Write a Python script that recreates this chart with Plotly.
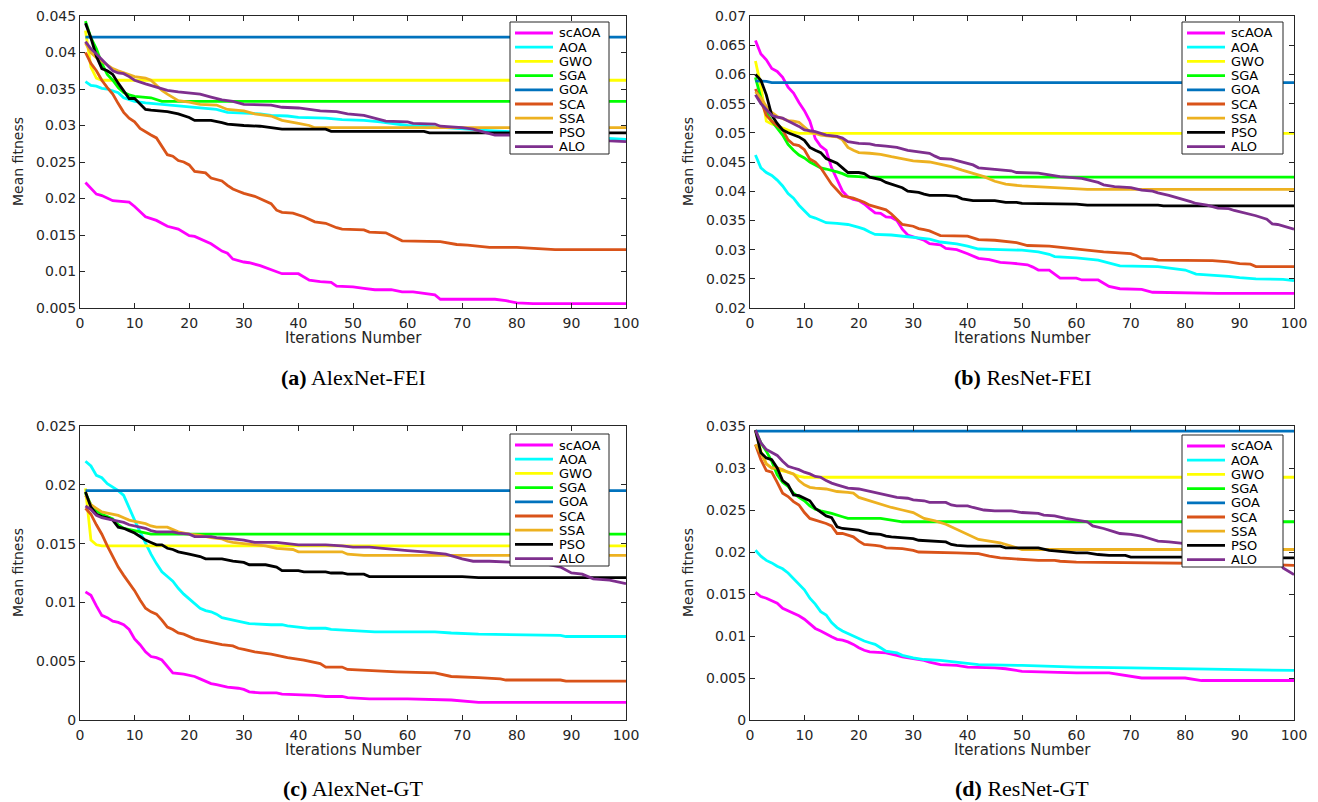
import plotly.graph_objects as go

NAMES = ["scAOA", "AOA", "GWO", "SGA", "GOA", "SCA", "SSA", "PSO", "ALO"]
COLORS = ["#FF00FF", "#00FFFF", "#FFFF00", "#00FF00", "#0072BD", "#D95319", "#EDB120", "#000000", "#7E2F8E"]

# ---------------- (a) AlexNet-FEI ----------------
a_scAOA = [(1,.0222),(2,.0214),(3,.0206),(4,.0204),(5,.0201),(6,.0197),(9,.0195),(10,.0189),(12,.0175),(14,.0170),(16,.0162),(18,.0158),(20,.0149),(21,.0148),(24,.0138),(26,.0128),(27,.0125),(28,.0117),(30,.0113),(31,.0112),(33,.0108),(35,.0102),(37,.0097),(40,.0097),(42,.0088),(44,.0086),(46,.0085),(47,.0080),(50,.0079),(52,.0077),(54,.0075),(57,.0075),(59,.0072),(61,.0072),(63,.0070),(65,.0068),(66,.0062),(76,.0062),(78,.0060),(80,.0057),(83,.0056),(100,.0056)]
a_AOA = [(1,.0360),(2,.0355),(3,.0354),(4,.0351),(5,.0350),(6,.0347),(7,.0345),(8,.0338),(9,.0335),(10,.0333),(12,.0331),(15,.0329),(18,.0327),(20,.0325),(22,.0324),(25,.0322),(27,.0318),(30,.0317),(33,.0316),(35,.0314),(38,.0313),(40,.0311),(45,.0310),(48,.0308),(52,.0307),(55,.0305),(60,.0300),(65,.0298),(70,.0295),(75,.0293),(80,.0291),(85,.0288),(90,.0285),(95,.0283),(100,.0281)]
a_GWO = [(1,.0430),(2,.0380),(3,.0365),(4,.0362),(100,.0362)]
a_SGA = [(1,.0443),(2,.0420),(3,.0405),(4,.0385),(5,.0370),(6,.0362),(7,.0352),(8,.0345),(9,.0342),(10,.0340),(13,.0338),(14,.0335),(15,.0333),(100,.0333)]
a_GOA = [(1,.0421),(100,.0421)]
a_SCA = [(1,.0400),(2,.0385),(3,.0375),(4,.0362),(5,.0352),(6,.0343),(7,.0330),(8,.0318),(9,.0310),(10,.0305),(11,.0296),(12,.0291),(13,.0287),(14,.0283),(15,.0272),(16,.0260),(17,.0258),(18,.0252),(19,.0250),(20,.0246),(21,.0237),(23,.0235),(24,.0228),(26,.0224),(27,.0218),(28,.0213),(29,.0210),(30,.0207),(32,.0203),(34,.0196),(35,.0193),(36,.0184),(37,.0181),(39,.0180),(41,.0175),(43,.0168),(45,.0166),(47,.0160),(48,.0158),(52,.0157),(53,.0154),(56,.0153),(58,.0146),(59,.0142),(66,.0141),(69,.0137),(71,.0136),(73,.0135),(75,.0133),(80,.0133),(83,.0132),(85,.0131),(87,.0130),(100,.0130)]
a_SSA = [(1,.0413),(2,.0400),(3,.0393),(4,.0388),(5,.0383),(6,.0378),(7,.0375),(8,.0372),(9,.0369),(10,.0367),(12,.0365),(13,.0362),(14,.0355),(15,.0348),(16,.0343),(17,.0339),(18,.0334),(20,.0332),(22,.0329),(25,.0328),(27,.0322),(30,.0320),(32,.0316),(35,.0313),(37,.0307),(40,.0303),(42,.0300),(43,.0297),(100,.0297)]
a_PSO = [(1,.0440),(2,.0420),(3,.0395),(4,.0378),(5,.0375),(6,.0370),(7,.0358),(8,.0348),(9,.0337),(10,.0337),(11,.0330),(12,.0322),(13,.0321),(16,.0319),(18,.0316),(19,.0314),(20,.0311),(21,.0307),(24,.0307),(26,.0304),(27,.0302),(30,.0300),(33,.0299),(35,.0297),(37,.0295),(45,.0295),(46,.0292),(63,.0292),(64,.0290),(100,.0290)]
a_ALO = [(1,.0415),(2,.0405),(3,.0398),(4,.0390),(5,.0382),(6,.0375),(7,.0372),(8,.0371),(9,.0367),(10,.0362),(12,.0357),(14,.0353),(16,.0348),(18,.0346),(20,.0345),(22,.0343),(24,.0339),(26,.0335),(28,.0333),(30,.0329),(35,.0328),(37,.0325),(40,.0324),(42,.0322),(44,.0320),(47,.0319),(49,.0316),(52,.0314),(54,.0310),(56,.0306),(60,.0305),(61,.0303),(65,.0302),(66,.0299),(70,.0297),(72,.0295),(75,.0289),(76,.0287),(80,.0287),(85,.0286),(90,.0284),(97,.0279),(100,.0278)]

# ---------------- (b) ResNet-FEI ----------------
b_scAOA = [(1,.0658),(2,.0635),(3,.0625),(4,.0610),(5,.0605),(6,.0595),(7,.0578),(8,.0568),(9,.0552),(10,.0538),(11,.0520),(12,.0490),(13,.0477),(14,.0470),(15,.0440),(16,.0420),(17,.0400),(18,.0390),(19,.0386),(20,.0384),(21,.0378),(22,.0370),(23,.0363),(24,.0362),(25,.0356),(26,.0355),(27,.0350),(28,.0335),(29,.0325),(30,.0322),(32,.0316),(33,.0310),(35,.0308),(36,.0302),(38,.0300),(40,.0293),(42,.0285),(44,.0283),(46,.0278),(48,.0277),(51,.0274),(52,.0270),(53,.0265),(55,.0265),(56,.0258),(57,.0251),(60,.0251),(61,.0248),(64,.0248),(65,.0242),(66,.0237),(68,.0233),(72,.0232),(74,.0227),(85,.0226),(86,.0225),(100,.0225)]
b_AOA = [(1,.0462),(2,.0440),(3,.0432),(4,.0427),(5,.0419),(6,.0409),(7,.0396),(8,.0388),(9,.0376),(10,.0366),(11,.0357),(12,.0354),(13,.0350),(14,.0346),(16,.0345),(18,.0343),(20,.0338),(21,.0335),(22,.0330),(23,.0326),(26,.0325),(28,.0323),(30,.0320),(33,.0318),(35,.0313),(38,.0310),(40,.0306),(42,.0301),(46,.0300),(50,.0299),(53,.0296),(55,.0292),(56,.0288),(60,.0286),(64,.0282),(66,.0277),(68,.0272),(75,.0271),(78,.0267),(80,.0265),(82,.0258),(86,.0256),(88,.0254),(90,.0252),(93,.0250),(98,.0249),(100,.0247)]
b_GWO = [(1,.0623),(2,.0580),(3,.0520),(4,.0515),(5,.0512),(6,.0508),(7,.0504),(8,.0501),(9,.0499),(100,.0499)]
b_SGA = [(1,.0595),(2,.0560),(3,.0535),(4,.0520),(5,.0508),(6,.0496),(7,.0480),(8,.0470),(9,.0462),(10,.0457),(11,.0450),(12,.0445),(13,.0440),(14,.0438),(15,.0436),(16,.0433),(17,.0430),(18,.0426),(20,.0425),(21,.0424),(100,.0424)]
b_GOA = [(1,.0589),(3,.0588),(4,.0586),(100,.0586)]
b_SCA = [(1,.0575),(2,.0555),(3,.0530),(4,.0520),(5,.0512),(6,.0505),(7,.0488),(8,.0480),(9,.0478),(10,.0471),(11,.0455),(12,.0450),(13,.0440),(14,.0427),(15,.0412),(16,.0402),(17,.0392),(19,.0388),(20,.0385),(21,.0381),(22,.0376),(23,.0373),(24,.0370),(25,.0368),(26,.0361),(27,.0352),(28,.0343),(30,.0340),(31,.0336),(32,.0334),(33,.0332),(34,.0328),(35,.0324),(40,.0323),(41,.0320),(42,.0317),(45,.0316),(47,.0314),(49,.0312),(51,.0307),(55,.0306),(58,.0303),(60,.0301),(63,.0299),(65,.0296),(70,.0293),(71,.0290),(72,.0285),(74,.0284),(75,.0282),(85,.0281),(88,.0279),(90,.0276),(92,.0275),(93,.0271),(100,.0271)]
b_SSA = [(1,.0570),(2,.0560),(3,.0545),(4,.0535),(5,.0528),(6,.0524),(7,.0521),(8,.0520),(9,.0518),(10,.0510),(11,.0502),(12,.0499),(13,.0496),(15,.0494),(16,.0493),(17,.0488),(18,.0475),(19,.0470),(20,.0466),(22,.0465),(24,.0463),(26,.0459),(28,.0455),(30,.0452),(33,.0450),(35,.0446),(37,.0442),(39,.0436),(41,.0431),(43,.0425),(45,.0417),(47,.0412),(50,.0409),(55,.0407),(58,.0405),(62,.0403),(100,.0403)]
b_PSO = [(1,.0600),(2,.0590),(3,.0565),(4,.0530),(5,.0516),(6,.0505),(7,.0500),(8,.0496),(9,.0493),(10,.0487),(11,.0475),(12,.0470),(13,.0466),(14,.0456),(15,.0452),(16,.0448),(17,.0440),(18,.0432),(20,.0432),(21,.0430),(22,.0424),(24,.0420),(25,.0415),(26,.0412),(27,.0410),(28,.0406),(29,.0400),(31,.0398),(32,.0395),(33,.0393),(36,.0393),(38,.0391),(39,.0387),(40,.0386),(41,.0384),(45,.0384),(47,.0381),(49,.0381),(50,.0379),(60,.0378),(62,.0376),(75,.0376),(76,.0375),(100,.0375)]
b_ALO = [(1,.0565),(2,.0550),(3,.0540),(4,.0530),(5,.0527),(6,.0525),(7,.0520),(8,.0516),(9,.0511),(10,.0505),(12,.0502),(13,.0499),(14,.0496),(16,.0494),(17,.0491),(18,.0485),(20,.0482),(22,.0481),(23,.0479),(25,.0477),(27,.0475),(29,.0470),(31,.0468),(33,.0465),(34,.0460),(35,.0456),(37,.0455),(39,.0450),(41,.0445),(42,.0440),(45,.0437),(48,.0435),(49,.0432),(53,.0431),(55,.0428),(57,.0425),(61,.0422),(63,.0418),(64,.0415),(65,.0411),(67,.0408),(70,.0406),(72,.0402),(74,.0400),(75,.0397),(77,.0393),(79,.0388),(81,.0382),(82,.0379),(84,.0376),(86,.0371),(88,.0370),(89,.0367),(91,.0363),(92,.0360),(93,.0358),(95,.0352),(96,.0344),(97,.0343),(99,.0338),(100,.0335)]

# ---------------- (c) AlexNet-GT ----------------
c_scAOA = [(1,.0109),(2,.0106),(3,.0097),(4,.0089),(5,.0087),(6,.0084),(7,.0083),(8,.0081),(9,.0077),(10,.0069),(11,.0064),(12,.0058),(13,.0054),(14,.0053),(15,.0051),(16,.0045),(17,.0040),(19,.0039),(20,.0038),(21,.0037),(22,.0035),(23,.0033),(24,.0031),(25,.0030),(27,.0028),(29,.0027),(30,.0026),(31,.0024),(33,.0023),(36,.0023),(37,.0022),(43,.0021),(45,.0020),(48,.0020),(49,.0019),(53,.0018),(60,.0018),(68,.0017),(70,.0016),(73,.0015),(100,.0015)]
c_AOA = [(1,.0220),(2,.0216),(3,.0208),(4,.0206),(5,.0201),(6,.0198),(7,.0195),(8,.0191),(9,.0180),(10,.0170),(11,.0160),(12,.0150),(13,.0141),(14,.0133),(15,.0126),(16,.0122),(17,.0118),(18,.0112),(19,.0107),(20,.0103),(21,.0099),(22,.0095),(23,.0093),(24,.0092),(25,.0090),(26,.0087),(27,.0086),(28,.0085),(29,.0084),(30,.0083),(31,.0082),(35,.0081),(37,.0081),(38,.0080),(40,.0079),(42,.0078),(45,.0078),(46,.0077),(50,.0076),(54,.0075),(65,.0075),(68,.0074),(73,.0073),(88,.0072),(89,.0071),(100,.0071)]
c_GWO = [(1,.0197),(2,.0153),(3,.0149),(4,.0148),(100,.0148)]
c_SGA = [(1,.0193),(2,.0183),(3,.0178),(4,.0175),(5,.0173),(6,.0171),(7,.0166),(8,.0163),(10,.0161),(12,.0159),(13,.0158),(100,.0158)]
c_GOA = [(1,.0195),(100,.0195)]
c_SCA = [(1,.0180),(2,.0175),(3,.0166),(4,.0158),(5,.0148),(6,.0139),(7,.0130),(8,.0123),(9,.0117),(10,.0110),(11,.0102),(12,.0095),(13,.0092),(14,.0090),(15,.0085),(16,.0079),(17,.0077),(18,.0074),(19,.0073),(20,.0071),(21,.0069),(22,.0068),(24,.0066),(25,.0065),(26,.0064),(28,.0063),(29,.0061),(30,.0060),(32,.0058),(35,.0056),(37,.0054),(38,.0053),(41,.0051),(42,.0050),(43,.0049),(44,.0048),(45,.0045),(48,.0045),(49,.0043),(53,.0042),(58,.0041),(65,.0040),(68,.0037),(73,.0036),(77,.0035),(78,.0034),(88,.0034),(89,.0033),(100,.0033)]
c_SSA = [(1,.0191),(2,.0183),(3,.0180),(4,.0177),(5,.0176),(6,.0175),(7,.0174),(8,.0172),(9,.0170),(10,.0169),(11,.0168),(12,.0167),(13,.0165),(14,.0164),(16,.0164),(17,.0162),(18,.0160),(20,.0158),(22,.0157),(24,.0155),(26,.0154),(27,.0152),(28,.0151),(30,.0150),(32,.0149),(34,.0148),(36,.0146),(39,.0145),(40,.0143),(48,.0143),(49,.0141),(52,.0140),(100,.0140)]
c_PSO = [(1,.0194),(2,.0181),(3,.0175),(4,.0173),(5,.0172),(6,.0170),(7,.0164),(8,.0163),(9,.0161),(10,.0159),(11,.0156),(12,.0153),(13,.0151),(14,.0149),(15,.0149),(16,.0146),(17,.0145),(18,.0143),(20,.0141),(22,.0139),(23,.0137),(26,.0137),(28,.0135),(30,.0134),(31,.0132),(34,.0132),(36,.0130),(37,.0127),(40,.0127),(41,.0126),(45,.0126),(46,.0125),(48,.0125),(49,.0124),(52,.0124),(53,.0122),(70,.0122),(73,.0121),(100,.0121)]
c_ALO = [(1,.0182),(2,.0179),(3,.0174),(4,.0172),(5,.0171),(7,.0169),(8,.0168),(9,.0166),(10,.0165),(12,.0163),(13,.0161),(14,.0160),(17,.0160),(18,.0159),(20,.0158),(21,.0156),(24,.0156),(25,.0155),(28,.0154),(30,.0153),(32,.0151),(36,.0151),(40,.0149),(45,.0149),(48,.0148),(50,.0147),(53,.0147),(57,.0145),(60,.0144),(63,.0143),(65,.0142),(67,.0141),(70,.0137),(72,.0135),(75,.0135),(80,.0134),(85,.0133),(88,.0130),(90,.0125),(92,.0124),(94,.0120),(97,.0119),(100,.0116)]

# ---------------- (d) ResNet-GT ----------------
d_scAOA = [(1,.0152),(2,.0147),(3,.0145),(4,.0142),(5,.0139),(6,.0133),(7,.0130),(8,.0127),(9,.0124),(10,.0120),(11,.0114),(12,.0109),(13,.0106),(14,.0102),(15,.0099),(16,.0096),(17,.0095),(18,.0093),(19,.0090),(20,.0086),(21,.0083),(22,.0081),(25,.0080),(27,.0077),(28,.0075),(30,.0073),(32,.0071),(33,.0069),(35,.0066),(38,.0065),(40,.0063),(45,.0062),(47,.0061),(50,.0058),(55,.0057),(60,.0056),(66,.0056),(68,.0054),(70,.0052),(72,.0050),(80,.0050),(83,.0047),(100,.0047)]
d_AOA = [(1,.0202),(2,.0195),(3,.0190),(4,.0187),(5,.0183),(6,.0180),(7,.0175),(8,.0168),(9,.0162),(10,.0155),(11,.0145),(12,.0138),(13,.0129),(14,.0125),(15,.0116),(16,.0110),(17,.0106),(18,.0103),(19,.0100),(20,.0097),(21,.0094),(22,.0092),(23,.0090),(24,.0086),(25,.0082),(27,.0080),(28,.0077),(30,.0074),(32,.0072),(35,.0071),(38,.0069),(40,.0067),(42,.0066),(50,.0065),(55,.0064),(60,.0063),(70,.0062),(80,.0061),(90,.0060),(100,.0059)]
d_GWO = [(1,.0345),(2,.0320),(3,.0305),(4,.0300),(5,.0298),(7,.0295),(9,.0290),(10,.0289),(100,.0289)]
d_SGA = [(1,.0345),(2,.0330),(3,.0320),(4,.0308),(5,.0292),(6,.0283),(7,.0278),(8,.0270),(9,.0265),(10,.0261),(11,.0255),(12,.0251),(13,.0249),(15,.0246),(17,.0242),(18,.0240),(24,.0240),(27,.0237),(28,.0236),(100,.0236)]
d_GOA = [(1,.0344),(100,.0344)]
d_SCA = [(1,.0328),(2,.0310),(3,.0297),(4,.0295),(5,.0283),(6,.0270),(7,.0266),(8,.0260),(9,.0256),(10,.0247),(11,.0240),(12,.0238),(14,.0234),(15,.0231),(16,.0222),(17,.0222),(18,.0220),(19,.0218),(20,.0213),(21,.0209),(23,.0208),(24,.0207),(25,.0205),(28,.0204),(30,.0202),(31,.0200),(38,.0199),(42,.0198),(44,.0195),(46,.0193),(48,.0192),(50,.0191),(53,.0190),(56,.0190),(57,.0189),(60,.0188),(80,.0187),(90,.0186),(100,.0184)]
d_SSA = [(1,.0328),(2,.0318),(3,.0305),(4,.0300),(5,.0300),(6,.0298),(7,.0295),(8,.0293),(9,.0285),(10,.0280),(11,.0277),(12,.0276),(14,.0275),(16,.0272),(18,.0271),(19,.0270),(20,.0265),(22,.0261),(24,.0257),(26,.0253),(28,.0250),(30,.0247),(32,.0240),(34,.0237),(36,.0233),(38,.0227),(40,.0221),(42,.0215),(44,.0213),(46,.0211),(48,.0207),(50,.0203),(100,.0203)]
d_PSO = [(1,.0345),(2,.0318),(3,.0312),(4,.0310),(5,.0300),(6,.0285),(7,.0280),(8,.0268),(9,.0267),(10,.0264),(11,.0261),(12,.0252),(13,.0248),(14,.0243),(15,.0241),(16,.0230),(17,.0228),(19,.0227),(20,.0226),(21,.0224),(22,.0222),(24,.0221),(25,.0219),(26,.0218),(29,.0217),(30,.0216),(31,.0214),(34,.0213),(36,.0212),(37,.0209),(38,.0208),(40,.0207),(46,.0207),(47,.0205),(53,.0205),(55,.0202),(58,.0200),(60,.0199),(62,.0199),(64,.0197),(66,.0196),(69,.0196),(70,.0194),(80,.0194),(90,.0193),(100,.0193)]
d_ALO = [(1,.0345),(2,.0330),(3,.0322),(4,.0318),(5,.0315),(6,.0308),(7,.0302),(8,.0300),(9,.0298),(10,.0295),(11,.0293),(12,.0290),(13,.0289),(14,.0285),(15,.0282),(16,.0280),(17,.0278),(18,.0276),(20,.0275),(22,.0272),(23,.0271),(25,.0268),(27,.0265),(29,.0264),(30,.0262),(32,.0261),(33,.0259),(36,.0259),(37,.0256),(38,.0255),(40,.0255),(41,.0253),(43,.0250),(45,.0249),(48,.0249),(50,.0247),(53,.0246),(54,.0244),(56,.0243),(58,.0240),(61,.0237),(62,.0236),(63,.0231),(65,.0228),(67,.0224),(68,.0222),(70,.0221),(72,.0219),(73,.0217),(75,.0213),(77,.0212),(80,.0210),(85,.0208),(90,.0205),(95,.0200),(97,.0195),(98,.0181),(100,.0173)]

PANELS = [
    dict(series=[a_scAOA, a_AOA, a_GWO, a_SGA, a_GOA, a_SCA, a_SSA, a_PSO, a_ALO],
         yr=[0.005, 0.045], ticks=[0.005, 0.01, 0.015, 0.02, 0.025, 0.03, 0.035, 0.04, 0.045],
         ticktext=["0.005", "0.01", "0.015", "0.02", "0.025", "0.03", "0.035", "0.04", "0.045"],
         caption="<b>(a)</b> AlexNet-FEI"),
    dict(series=[b_scAOA, b_AOA, b_GWO, b_SGA, b_GOA, b_SCA, b_SSA, b_PSO, b_ALO],
         yr=[0.02, 0.07], ticks=[0.02, 0.025, 0.03, 0.035, 0.04, 0.045, 0.05, 0.055, 0.06, 0.065, 0.07],
         ticktext=["0.02", "0.025", "0.03", "0.035", "0.04", "0.045", "0.05", "0.055", "0.06", "0.065", "0.07"],
         caption="<b>(b)</b> ResNet-FEI"),
    dict(series=[c_scAOA, c_AOA, c_GWO, c_SGA, c_GOA, c_SCA, c_SSA, c_PSO, c_ALO],
         yr=[0, 0.025], ticks=[0, 0.005, 0.01, 0.015, 0.02, 0.025],
         ticktext=["0", "0.005", "0.01", "0.015", "0.02", "0.025"],
         caption="<b>(c)</b> AlexNet-GT"),
    dict(series=[d_scAOA, d_AOA, d_GWO, d_SGA, d_GOA, d_SCA, d_SSA, d_PSO, d_ALO],
         yr=[0, 0.035], ticks=[0, 0.005, 0.01, 0.015, 0.02, 0.025, 0.03, 0.035],
         ticktext=["0", "0.005", "0.01", "0.015", "0.02", "0.025", "0.03", "0.035"],
         caption="<b>(d)</b> ResNet-GT"),
]

# the page body has an 8px margin, so the figure starts at (8, 8) in the window
OFF = 8
W, H = 1310, 794
# pixel boxes (window coordinates) of plot areas: (left, right, top, bottom)
BOXES = [(80, 626, 16, 308), (750, 1294, 16, 308), (80, 626, 426, 720), (750, 1294, 426, 720)]
LEGEND_BOX = [(510, 609, 22, 154), (1182, 1283, 22, 154), (510, 609, 434, 566), (1182, 1283, 435, 567)]
CAPTION_Y = [378, 378, 788, 788]
SANS = "DejaVu Sans"
AX = "#262626"
LW = 2.8

def px(x):
    return (x - OFF) / W

def py(y):
    return 1 - (y - OFF) / H

fig = go.Figure()
layout = dict(width=W, height=H, paper_bgcolor="white", plot_bgcolor="white",
              margin=dict(l=0, r=0, t=0, b=0), showlegend=False,
              font=dict(family=SANS, color=AX))
annotations, shapes = [], []
for i, p in enumerate(PANELS):
    k = "" if i == 0 else str(i + 1)
    l, r, t, b = BOXES[i]
    for name, color, ser in zip(NAMES, COLORS, p["series"]):
        fig.add_trace(go.Scatter(
            x=[pt[0] for pt in ser], y=[pt[1] for pt in ser], mode="lines", name=name,
            line=dict(color=color, width=LW), xaxis="x" + k, yaxis="y" + k))
    layout["xaxis" + k] = dict(
        domain=[px(l), px(r)], anchor="y" + k, range=[0, 100], tickvals=list(range(0, 101, 10)),
        ticks="inside", ticklen=5, tickcolor=AX, showline=True, linecolor=AX, linewidth=1,
        mirror="ticks", showgrid=False, zeroline=False, automargin=False, ticklabelstandoff=2,
        ticklabeloverflow="allow", tickfont=dict(size=14, color=AX, family=SANS))
    layout["yaxis" + k] = dict(
        domain=[py(b), py(t)], anchor="x" + k, range=p["yr"], tickvals=p["ticks"],
        ticktext=p["ticktext"], ticks="inside", ticklen=5, tickcolor=AX, showline=True,
        linecolor=AX, linewidth=1, mirror="ticks", showgrid=False, zeroline=False,
        automargin=False, ticklabeloverflow="allow",
        tickfont=dict(size=14, color=AX, family=SANS))
    # axis titles
    annotations.append(dict(text="Iterations Number", x=px((l + r) / 2), y=py(b + 30),
                            xref="paper", yref="paper", xanchor="center", yanchor="middle",
                            showarrow=False, font=dict(size=15, color=AX, family=SANS)))
    annotations.append(dict(text="Mean fitness", x=px(l - 62), y=py((t + b) / 2),
                            xref="paper", yref="paper", xanchor="center", yanchor="middle",
                            textangle=-90, showarrow=False,
                            font=dict(size=14, color=AX, family=SANS)))
    # caption
    annotations.append(dict(
        text=p["caption"], x=px((l + r) / 2), y=py(CAPTION_Y[i]), xref="paper", yref="paper",
        xanchor="center", yanchor="middle", showarrow=False,
        font=dict(family="Liberation Serif, Times New Roman", size=22, color="#000")))
    # legend box
    lx0, lx1, ly0, ly1 = LEGEND_BOX[i]
    shapes.append(dict(type="rect", xref="paper", yref="paper", x0=px(lx0), x1=px(lx1),
                       y0=py(ly1), y1=py(ly0), fillcolor="white", line=dict(color=AX, width=1),
                       layer="above"))
    for j, (name, color) in enumerate(zip(NAMES, COLORS)):
        yy = ly0 + 11 + j * 14.2
        shapes.append(dict(type="line", xref="paper", yref="paper", x0=px(lx0 + 5), x1=px(lx0 + 43),
                           y0=py(yy), y1=py(yy), line=dict(color=color, width=LW), layer="above"))
        annotations.append(dict(text=name, x=px(lx0 + 47), y=py(yy), xref="paper", yref="paper",
                                xanchor="left", yanchor="middle", showarrow=False,
                                font=dict(size=13, color="#000", family=SANS)))
layout["annotations"] = annotations
layout["shapes"] = shapes
fig.update_layout(**layout)
fig.write_html("out.html")
